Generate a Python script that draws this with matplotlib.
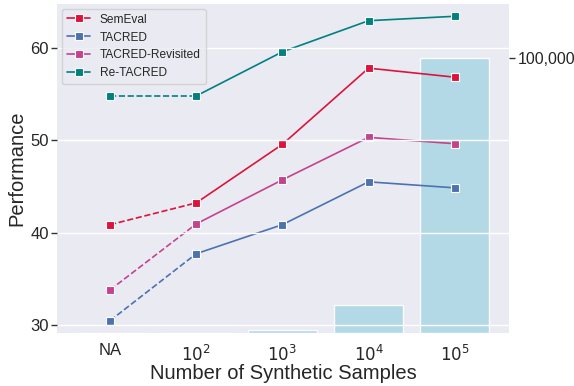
import matplotlib
matplotlib.use("Agg")
import matplotlib.pyplot as plt
import seaborn as sns
from matplotlib.ticker import FuncFormatter

categories = ["NA", "$10^2$", "$10^3$", "$10^4$", "$10^5$"]
semeval = [40.87, 43.23, 49.57, 57.83, 56.85]
tacred = [30.47, 37.72, 40.87, 45.51, 44.86]
tacred_rev = [33.80, 40.95, 45.73, 50.33, 49.64]
re_tacred = [54.82, 54.82, 59.60, 62.97, 63.45]
sample_counts = [0, 0, 1000, 10000, 100000]

series = [
    ("SemEval", semeval, "#dc143c"),
    ("TACRED", tacred, "#4c72b0"),
    ("TACRED-Revisited", tacred_rev, "#c4428f"),
    ("Re-TACRED", re_tacred, "#008080"),
]

sns.set_theme(style="darkgrid")
plt.rcParams["font.family"] = ["Liberation Sans", "DejaVu Sans"]

fig = plt.figure(figsize=(5.74, 3.86), dpi=100)
ax2 = fig.add_axes([57 / 574, 1 - 333 / 386, (509 - 57) / 574, (333 - 4) / 386])
ax = fig.add_axes(ax2.get_position(), sharex=ax2)

x = list(range(len(categories)))

# bars on the background axis
ax2.bar(x, sample_counts, width=0.8, color="#add8e6", alpha=0.9, edgecolor="white", linewidth=1)
ax2.set_ylim(0, 119600)
ax2.yaxis.tick_right()
ax2.set_yticks([100000])
ax2.yaxis.set_major_formatter(FuncFormatter(lambda v, p: f"{int(v):,}"))
ax2.grid(False)
ax2.tick_params(axis="y", labelsize=11.5, length=4, width=1, color="#333333", pad=2)
ax2.tick_params(axis="x", bottom=False, labelbottom=False)
for s in ax2.spines.values():
    s.set_visible(False)

ax.patch.set_visible(False)
for name, vals, col in series:
    ax.plot(x[:2], vals[:2], linestyle="--", color=col, marker="s", markersize=6,
            markeredgecolor="white", markeredgewidth=0.8, linewidth=1.2)
    ax.plot(x[1:], vals[1:], linestyle="-", color=col, marker="s", markersize=6,
            markeredgecolor="white", markeredgewidth=0.8, linewidth=1.2, label=name)

ax.set_xlim(-0.616, 4.63)
ax.set_ylim(29.13, 64.78)
ax.set_yticks([30, 40, 50, 60])
ax.set_xticks(x)
ax.set_xticklabels(categories)
ax.grid(axis="x", visible=False)
ax.grid(axis="y", color="white", linewidth=1)
ax.set_axisbelow(False)
ax.tick_params(axis="y", labelsize=12, left=True, length=4, width=1, color="#333333", pad=2)
ax.tick_params(axis="x", labelsize=12, bottom=False, pad=1.5)
ax.set_xlabel("Number of Synthetic Samples", fontsize=14.5, color="#262626", labelpad=0.5)
ax.set_ylabel("Performance", fontsize=14.5, color="#262626", labelpad=3)
for s in ax.spines.values():
    s.set_visible(False)

ax.legend(loc="upper left", fontsize=8.6, frameon=True, borderaxespad=0.4)

fig.savefig("out.png", dpi=100)
